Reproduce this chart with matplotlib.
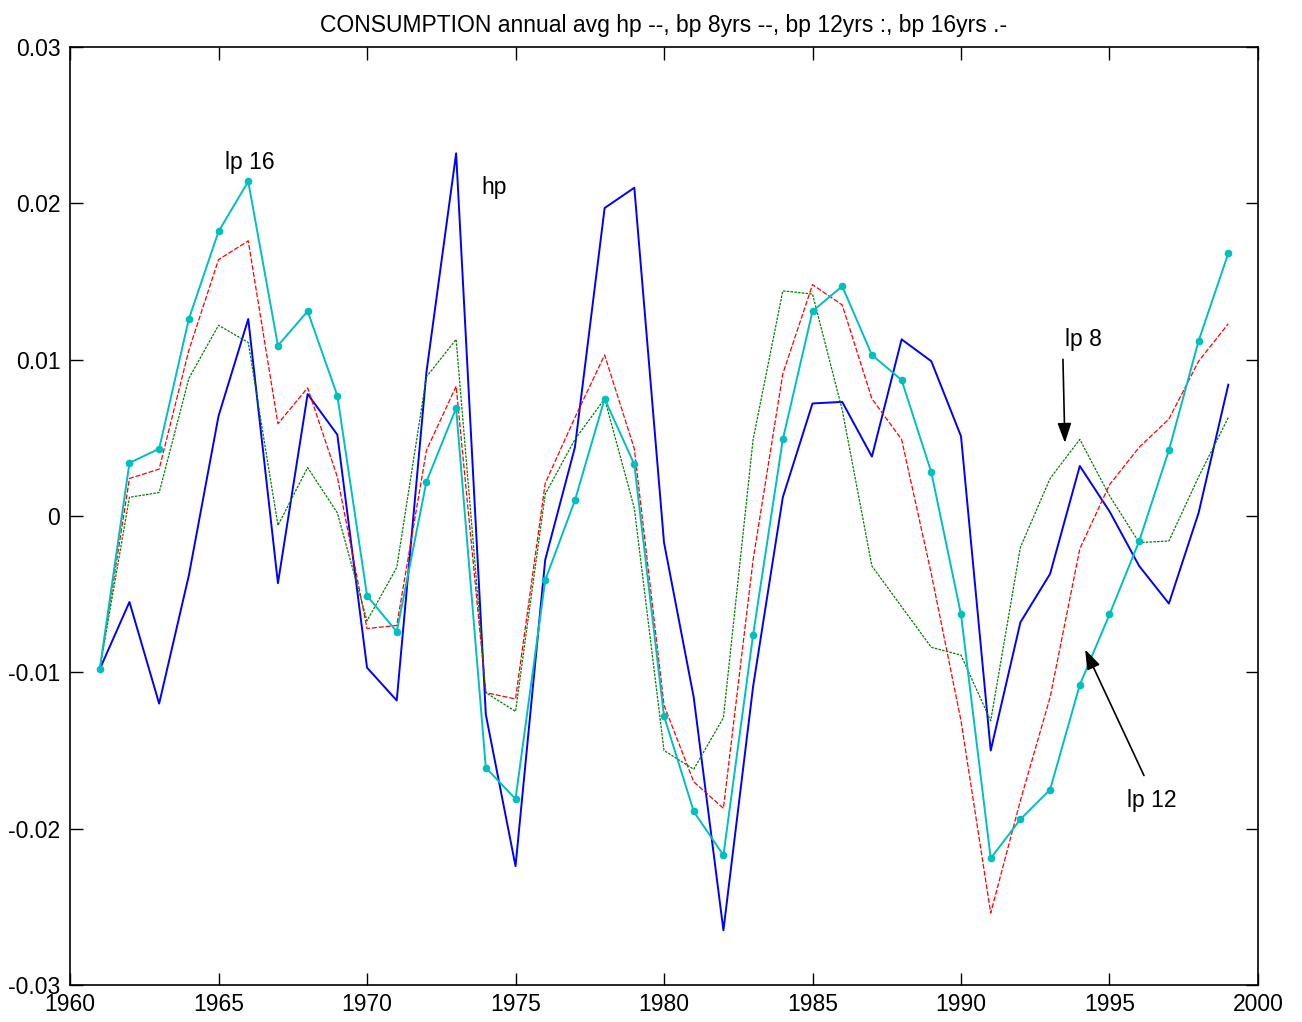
import matplotlib
matplotlib.use("Agg")
import matplotlib.pyplot as plt

plt.rcParams['font.family'] = ['Liberation Sans', 'DejaVu Sans']

years = list(range(1961, 2000))

# annual averages, filtered components
hp = [-0.0098, -0.0055, -0.0120, -0.0038, 0.0064, 0.0126, -0.0043, 0.0078, 0.0052, -0.0097,
      -0.0118, 0.0092, 0.0232, -0.0127, -0.0224, -0.0028, 0.0044, 0.0197, 0.0210, -0.0017,
      -0.0116, -0.0265, -0.0109, 0.0012, 0.0072, 0.0073, 0.0038, 0.0113, 0.0099, 0.0051,
      -0.0150, -0.0068, -0.0037, 0.0032, 0.0003, -0.0032, -0.0056, 0.0002, 0.0084]

bp12 = [-0.0098, 0.0024, 0.0030, 0.0106, 0.0164, 0.0176, 0.0059, 0.0082, 0.0025, -0.0072,
        -0.0070, 0.0042, 0.0083, -0.0113, -0.0117, 0.0021, 0.0063, 0.0103, 0.0043, -0.0121,
        -0.0170, -0.0187, -0.0028, 0.0091, 0.0148, 0.0135, 0.0075, 0.0049, -0.0037, -0.0131,
        -0.0254, -0.0182, -0.0116, -0.0021, 0.0020, 0.0044, 0.0062, 0.0099, 0.0123]

bp8 = [-0.0098, 0.0012, 0.0015, 0.0088, 0.0122, 0.0111, -0.0006, 0.0031, 0.0002, -0.0067,
       -0.0033, 0.0089, 0.0113, -0.0113, -0.0125, 0.0014, 0.0049, 0.0075, 0.0005, -0.0150,
       -0.0162, -0.0129, 0.0049, 0.0144, 0.0142, 0.0068, -0.0032, -0.0058, -0.0084, -0.0089,
       -0.0131, -0.0020, 0.0024, 0.0049, 0.0013, -0.0017, -0.0016, 0.0025, 0.0063]

bp16 = [-0.0098, 0.0034, 0.0043, 0.0126, 0.0182, 0.0214, 0.0109, 0.0131, 0.0077, -0.0051,
        -0.0074, 0.0022, 0.0069, -0.0161, -0.0181, -0.0041, 0.0010, 0.0075, 0.0033, -0.0128,
        -0.0189, -0.0217, -0.0076, 0.0049, 0.0131, 0.0147, 0.0103, 0.0087, 0.0028, -0.0063,
        -0.0219, -0.0194, -0.0175, -0.0108, -0.0063, -0.0016, 0.0042, 0.0112, 0.0168]

xticks = [1960, 1965, 1970, 1975, 1980, 1985, 1990, 1995, 2000]
yticks = [-0.03, -0.02, -0.01, 0, 0.01, 0.02, 0.03]
ytick_labels = ['-0.03', '-0.02', '-0.01', '0', '0.01', '0.02', '0.03']

fig = plt.figure(figsize=(13.02, 10.22), dpi=100)
ax = fig.add_axes([0.0538, 0.0362, 0.9124, 0.9178])

ax.plot(years, hp, color='#0000ff', lw=1.4)
ax.plot(years, bp12, color='#ff0000', lw=0.9, dashes=(4, 1.5))
ax.plot(years, bp8, color='#007f00', lw=0.9, dashes=(2, 1))
ax.plot(years, bp16, color='#00bfbf', lw=1.4, marker='o', ms=4.5)

ax.set_xlim(1960, 2000)
ax.set_ylim(-0.03, 0.03)
ax.set_xticks(xticks)
ax.set_yticks(yticks)
ax.set_yticklabels(ytick_labels)
ax.tick_params(direction='in', length=9, width=1, top=True, right=True, labelsize=16.5)
ax.tick_params(axis='x', pad=6)
ax.tick_params(axis='y', pad=7)
for s in ax.spines.values():
    s.set_linewidth(1.2)

ax.set_title('CONSUMPTION annual avg hp --, bp 8yrs --, bp 12yrs :, bp 16yrs .-', fontsize=16.5, pad=11)

ax.text(1966.06, 0.0226, 'lp 16', fontsize=16.5, ha='center', va='center')
ax.text(1973.85, 0.0210, 'hp', fontsize=16.5, ha='left', va='center')
ax.text(1993.5, 0.01126, 'lp 8', fontsize=16.5, ha='left', va='center')
ax.text(1995.6, -0.0182, 'lp 12', fontsize=16.5, ha='left', va='center')

arrow = dict(arrowstyle='-|>,head_length=1.2,head_width=0.42', color='black', lw=1.2)
ax.annotate('', xy=(1993.5, 0.0045), xytext=(1993.43, 0.0102), arrowprops=arrow)
ax.annotate('', xy=(1994.14, -0.00838), xytext=(1996.2, -0.01676), arrowprops=arrow)

fig.savefig('out.png', dpi=100)
